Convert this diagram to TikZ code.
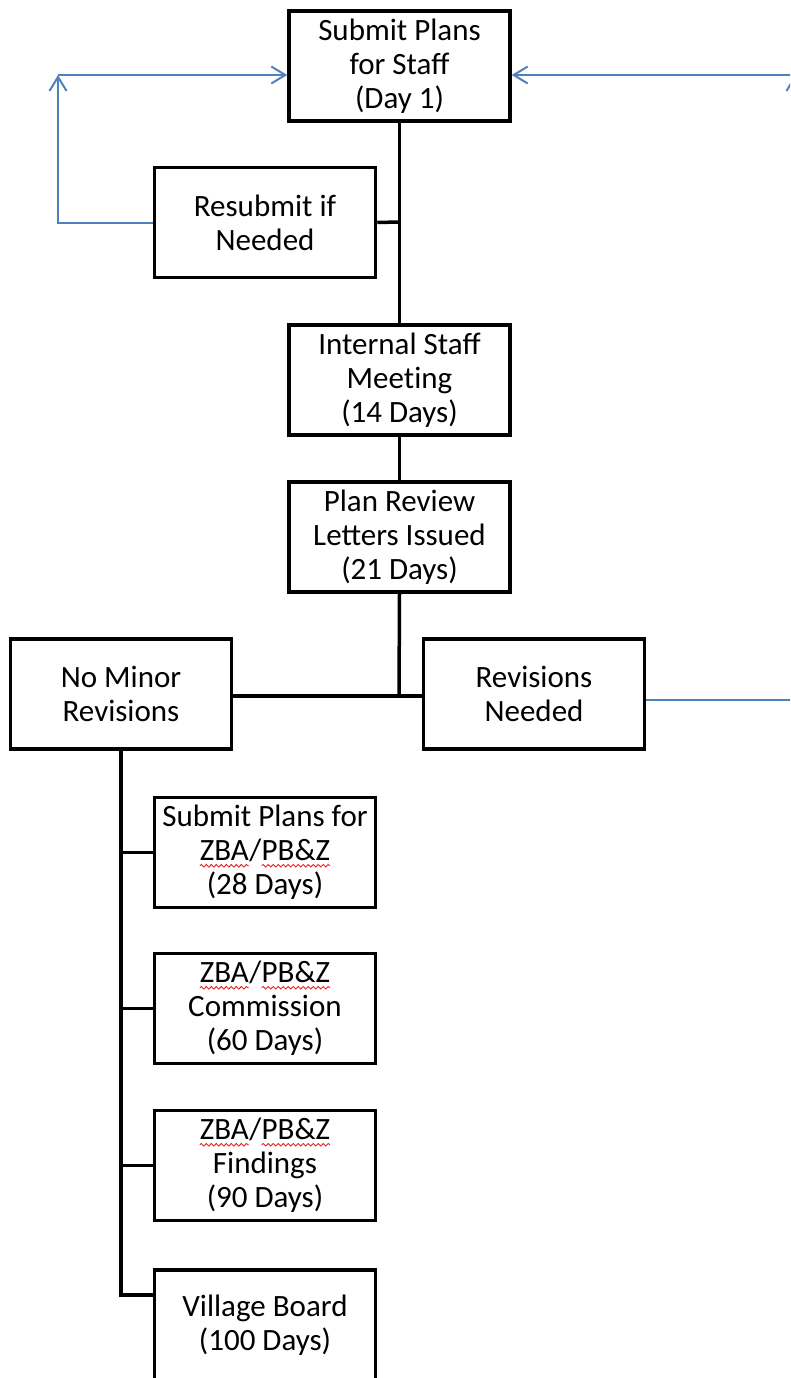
\documentclass[tikz,border=0pt]{standalone}
\usepackage{fontspec}
\setmainfont{Carlito}
\usetikzlibrary{arrows.meta,decorations.pathmorphing}
\definecolor{lineblue}{RGB}{79,129,189}
\definecolor{squigred}{RGB}{225,40,40}
\newcommand{\spellwave}[1]{\tikz[baseline=(sw.base)]{\node[inner sep=0pt,outer sep=0pt,draw=none,minimum width=0pt,minimum height=0pt](sw){#1};\draw[squigred,line width=0.9pt,decorate,decoration={snake,amplitude=1.3pt,segment length=5pt}]([yshift=-5pt]sw.base west)--([yshift=-5pt]sw.base east);}}
\tikzset{
  box/.style={draw=black,line width=3.5pt,minimum width=221pt,minimum height=110pt,inner sep=0pt,align=center,font=\fontsize{31}{34}\selectfont},
  conn/.style={draw=black,line width=3.5pt},
  bconn/.style={draw=lineblue,line width=2pt,-{Straight Barb[length=14pt,width=17pt,line width=2pt]}},
  bline/.style={draw=lineblue,line width=2pt}
}
\begin{document}
\begin{tikzpicture}[x=1pt,y=-1pt]
\useasboundingbox (0,0) rectangle (790,1378);
\clip (0,0) rectangle (790,1378);
\node[box] (submit) at (399.5,66) {Submit Plans\\for Staff\\(Day 1)};
\node[box] (resub) at (265,222.5) {Resubmit if\\Needed};
\node[box] (internal) at (399.5,380) {Internal Staff\\Meet\kern0pt ing\\(14 Days)};
\node[box] (review) at (399.5,537) {Plan Review\\Letters Issued\\(21 Days)};
\node[box] (nominor) at (121,694) {No Minor\\Revisions};
\node[box] (revneed) at (534,694) {Revisions\\Needed};
\node[box] (zbasub) at (265,852.5) {Submit Plans for\\\spellwave{ZBA}/\spellwave{PB\&Z}\\(28 Days)};
\node[box] (zbacom) at (265,1008.5) {\spellwave{ZBA}/\spellwave{PB\&Z}\\Commission\\(60 Days)};
\node[box] (zbafind) at (265,1165.5) {\spellwave{ZBA}/\spellwave{PB\&Z}\\Findings\\(90 Days)};
\node[box] (village) at (265,1325) {Village Board\\(100 Days)};
% black connectors
\coordinate (jr) at (399,222);
\coordinate (jh) at (399,696);
\draw[conn] (submit.south) -- (internal.north);
\draw[conn] (resub.east) -- (jr);
\draw[conn] (internal.south) -- (review.north);
\draw[conn] (review.south) -- (jh);
\draw[conn] (nominor.east |- jh) -- (revneed.west |- jh);
\coordinate (lb) at (121,1295);
\draw[conn] (nominor.south) |- (village.west |- lb);
\draw[conn] (121,852.5) -- (zbasub.west);
\draw[conn] (121,1008.5) -- (zbacom.west);
\draw[conn] (121,1165.5) -- (zbafind.west);
% blue loops
\coordinate (lc) at (58,75);
\coordinate (rc) at (795,75);
\coordinate (rd) at (795,700);
\draw[bconn] (resub.west) -| (lc);
\draw[bconn] (lc) -- (submit.west |- lc);
\draw[bline] (revneed.east |- rd) -- (rd);
\draw[bconn] (rd) -- (rc);
\draw[bconn] (rc) -- (submit.east |- rc);
\end{tikzpicture}
\end{document}
